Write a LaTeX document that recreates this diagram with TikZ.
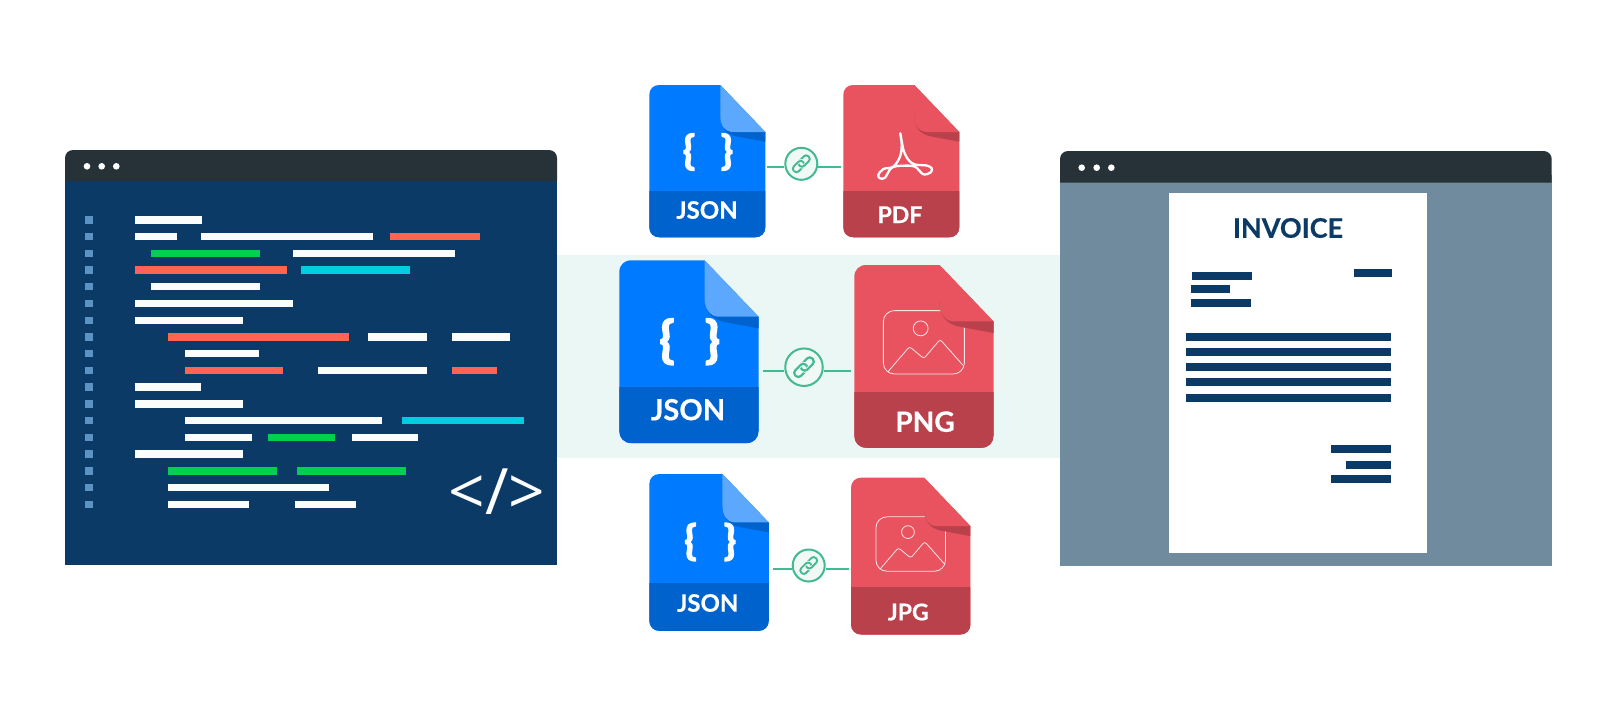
\documentclass[tikz,border=0pt]{standalone}
\usepackage{fontspec}
\setmainfont{Lato}
\newfontfamily\heavyface[BoldFeatures={FakeBold=0.5}]{Lato}
\newfontfamily\braceface[BoldFeatures={FakeBold=3}]{Lato}
\newfontfamily\tagface{Open Sans}
\definecolor{navy}{HTML}{0B3A66}
\definecolor{titlebar}{HTML}{263238}
\definecolor{slate}{HTML}{708A9E}
\definecolor{mint}{HTML}{EAF7F4}
\definecolor{discfill}{HTML}{F0F9F6}
\definecolor{linkgreen}{HTML}{43B98F}
\definecolor{codewhite}{HTML}{FBFCFC}
\definecolor{codered}{HTML}{FF6452}
\definecolor{codegreen}{HTML}{00D050}
\definecolor{codecyan}{HTML}{00CDE0}
\definecolor{gutter}{HTML}{5B93C4}
\definecolor{jsonbase}{HTML}{007AFF}
\definecolor{jsonband}{HTML}{0062CC}
\definecolor{jsonflap}{HTML}{5CA8FF}
\definecolor{redbase}{HTML}{E9535F}
\definecolor{redband}{HTML}{B9414B}
\tikzset{
  cardbox/.style={inner sep=0pt,outer sep=0pt},
  cardlabel/.style={text=white,inner sep=0pt,font=\heavyface\bfseries\fontsize{#1}{#1}\selectfont},
  bracemark/.style={text=codewhite,inner sep=0pt,font=\braceface\bfseries\fontsize{#1}{#1}\selectfont},
  linkdisc/.style={circle,draw=linkgreen,line width=2pt,fill=discfill,inner sep=0pt,minimum size=#1},
  linkline/.style={draw=linkgreen,line width=1.7pt},
  chainstroke/.style={draw=linkgreen,line width=#1*2.2pt,rounded corners=#1*3.6pt},
  chainhalo/.style={draw=discfill,line width=#1*4pt,rounded corners=#1*3.6pt},
  dotmark/.style={circle,fill=white,inner sep=0pt,minimum size=6.6pt},
}
% Document icon: outline, label band, optional artwork, folded corner with its shadow
\newcommand{\filecard}[8]{%
  \pgfmathsetmacro{\cardw}{116*#4}\pgfmathsetmacro{\cardh}{152.3*#4}
  \node[cardbox,anchor=north west,minimum width=\cardw pt,minimum height=\cardh pt] (#1) at (#2,#3) {};
  \begin{scope}[shift={(#2,#3)},scale=#4]
    \fill[#5] (10,0)--(71,0)--(116,47)--(116,142.3) .. controls (116,148) and (112,152.3) .. (106,152.3)
      --(10,152.3) .. controls (4,152.3) and (0,148) .. (0,142.3)--(0,10) .. controls (0,4) and (4,0) .. (10,0)--cycle;
    \begin{scope}
      \clip (0,106.3) rectangle (116,152.3);
      \fill[#6] (0,100)--(116,100)--(116,142.3) .. controls (116,148) and (112,152.3) .. (106,152.3)
        --(10,152.3) .. controls (4,152.3) and (0,148) .. (0,142.3)--cycle;
    \end{scope}
    #8
    \fill[#6] (71,30) .. controls (71,42) and (76,49) .. (88,51.5)--(116,56.7)--(116,47)--cycle;
    \fill[#7] (71,0)--(116,47)--(82,47) .. controls (75,46) and (71,40) .. (71,31)--cycle;
  \end{scope}
}
% Picture symbol carried by the raster-image documents
\newcommand{\photoglyph}{%
  \draw[white,opacity=.85,line width=.8pt,rounded corners=11pt]
    (72,38)--(24.2,38)--(24.2,90.8)--(91.7,90.8)--(91.7,45);
  \draw[white,opacity=.85,line width=.8pt] (55.3,52.8) circle (6.2);
  \draw[white,opacity=.85,line width=.8pt,rounded corners=2.5pt]
    (28,89)--(46,68)--(58,78)--(71.5,62)--(90.5,83.5);
}
% Two interlocked chain links, set on a disc
\newcommand{\chainglyph}[2]{%
  \begin{scope}[shift={(#1)},rotate=45,scale=#2]
    \draw[chainstroke=#2] (-12,-4) rectangle (3,4);
    \draw[chainhalo=#2] (-3,-4) rectangle (12,4);
    \draw[chainstroke=#2] (-3,-4) rectangle (12,4);
    \clip (-20,0) rectangle (20,-20);
    \draw[chainhalo=#2] (-12,-4) rectangle (3,4);
    \draw[chainstroke=#2] (-12,-4) rectangle (3,4);
  \end{scope}
}
\begin{document}
\begin{tikzpicture}[x=1pt,y=-1pt]
\useasboundingbox (0,0) rectangle (1617,710);
\fill[white] (0,0) rectangle (1617,710);
\fill[mint] (557,255) rectangle (1060,457.7);

% Code editor window
\fill[navy] (65,175) rectangle (557,565);
\fill[titlebar,rounded corners=8pt] (65,181)--(65,150)--(557,150)--(557,181);
\node[dotmark] (edotA) at (87,166.3) {};
\node[dotmark] (edotB) at (101.7,166.3) {};
\node[dotmark] (edotC) at (116.3,166.3) {};
\foreach \y in {220,236.7,253.3,270,286.7,303.3,320.3,337,353.7,370.3,387,404,420.7,437.3,454,471,487.7,504.3}
  \fill[gutter] (85,\y-3.7) rectangle (92.7,\y+3.7);
\foreach \a/\b/\y/\c in {
  134.7/201.7/220/codewhite,
  134.7/177.3/236.7/codewhite, 201.3/373.3/236.7/codewhite, 390/480/236.7/codered,
  151.3/260/253.3/codegreen, 293.3/455.3/253.3/codewhite,
  134.7/287.3/270/codered, 301.3/410/270/codecyan,
  151.3/260/286.7/codewhite,
  134.7/293.3/303.3/codewhite,
  134.7/243.3/320.3/codewhite,
  168/349/337/codered, 368.3/426.7/337/codewhite, 451.7/510/337/codewhite,
  184.7/258.7/353.7/codewhite,
  184.7/283.3/370.3/codered, 318/426.7/370.3/codewhite, 451.7/496.7/370.3/codered,
  134.7/201.3/387/codewhite,
  134.7/243.3/404/codewhite,
  184.7/381.7/420.7/codewhite, 401.7/523.7/420.7/codecyan,
  184.7/251.7/437.3/codewhite, 268/335/437.3/codegreen, 351.7/418.3/437.3/codewhite,
  134.7/243.3/454/codewhite,
  168/276.7/471/codegreen, 297/405.7/471/codegreen,
  168/329/487.7/codewhite,
  168/248.7/504.3/codewhite, 295/355.7/504.3/codewhite}
  \fill[\c] (\a,\y-3.7) rectangle (\b,\y+3.7);
\node[text=white,inner sep=0pt,font=\tagface\fontsize{64}{64}\selectfont] (codetag) at (497,491.5) {</>};

% Invoice window
\fill[slate] (1060,175) rectangle (1551.7,566);
\fill[titlebar,rounded corners=8pt] (1060,182.7)--(1060,151)--(1551.7,151)--(1551.7,182.7);
\node[dotmark] (idotA) at (1081.7,167.7) {};
\node[dotmark] (idotB) at (1096.7,167.7) {};
\node[dotmark] (idotC) at (1111.3,167.7) {};
\fill[white] (1168.7,192.7) rectangle (1426.7,553.3);
\node[text=navy,inner sep=0pt,font=\heavyface\bfseries\fontsize{27}{27}\selectfont] (invoicetitle) at (1288,228) {INVOICE};
\foreach \a/\b/\y in {
  1192/1252/276, 1191.3/1230/289, 1191.3/1251.3/302.7, 1353.7/1392.3/272.7,
  1186.3/1391/337, 1186.3/1391/352, 1186.3/1391/367, 1186.3/1391/381.7, 1186.3/1391/397.7,
  1331/1391/448.7, 1345.7/1390.7/465, 1330.7/1390.7/478.7}
  \fill[navy] (\a,\y-3.8) rectangle (\b,\y+3.8);

% Document pairs
\filecard{jsonA}{649.3}{85}{1}{jsonbase}{jsonband}{jsonflap}{}
\filecard{pdfA}{843.3}{85}{1}{redbase}{redband}{redbase}{}
\filecard{jsonB}{619.3}{260.3}{1.2}{jsonbase}{jsonband}{jsonflap}{}
\filecard{pngB}{854.3}{265}{1.2}{redbase}{redband}{redbase}{\photoglyph}
\filecard{jsonC}{649.3}{474}{1.03}{jsonbase}{jsonband}{jsonflap}{}
\filecard{jpgC}{851}{477.7}{1.03}{redbase}{redband}{redbase}{\photoglyph}

\node[cardlabel=24] (jsonAtext) at (707,210) {JSON};
\node[cardlabel=23] (pdfAtext) at (900,214.7) {PDF};
\node[cardlabel=29] (jsonBtext) at (688,409.7) {JSON};
\node[cardlabel=28] (pngBtext) at (925,421.7) {PNG};
\node[cardlabel=24] (jsonCtext) at (707.7,603) {JSON};
\node[cardlabel=23] (jpgCtext) at (908.3,612) {JPG};

\node[bracemark=40] (braceAl) at (689,152) {\{};
\node[bracemark=40] (braceAr) at (727,152) {\}};
\node[bracemark=50] (braceBl) at (667,341.7) {\{};
\node[bracemark=50] (braceBr) at (712.5,341.7) {\}};
\node[bracemark=41] (braceCl) at (690.5,542) {\{};
\node[bracemark=41] (braceCr) at (730,542) {\}};

% Acrobat mark on the PDF document
\draw[white,line width=2.3pt,line join=round] plot[smooth cycle,tension=.55] coordinates {
  (900.3,133.3) (903.5,150) (908.5,160) (915,164.5) (926.7,165.5) (931.7,168.3) (930.7,172.3)
  (923.3,174.3) (915,166.7) (903.3,165.7) (891.7,167.7) (885,177.7) (880,178.3) (878.3,175) (883.3,169) (893.3,166.7)
  (900,156.7) (901.7,145)};

% Links between the documents
\coordinate (rowA) at (0,166.7);
\coordinate (rowB) at (0,371);
\coordinate (rowC) at (0,568.7);
\node[linkdisc=32pt] (linkA) at (801.3,163.8) {};
\node[linkdisc=37.5pt] (linkB) at (804,367.2) {};
\node[linkdisc=32pt] (linkC) at (808.7,565.5) {};
\chainglyph{linkA}{.86}
\chainglyph{linkB}{1}
\chainglyph{linkC}{.86}
\draw[linkline,shorten <=2pt] (jsonA.east |- rowA) -- (linkA.west |- rowA);
\draw[linkline,shorten >=2.6pt] (linkA.east |- rowA) -- (pdfA.west |- rowA);
\draw[linkline,shorten <=4pt] (jsonB.east |- rowB) -- (linkB.west |- rowB);
\draw[linkline,shorten >=3.3pt] (linkB.east |- rowB) -- (pngB.west |- rowB);
\draw[linkline,shorten <=4pt] (jsonC.east |- rowC) -- (linkC.west |- rowC);
\draw[linkline,shorten >=2pt] (linkC.east |- rowC) -- (jpgC.west |- rowC);
\end{tikzpicture}
\end{document}
